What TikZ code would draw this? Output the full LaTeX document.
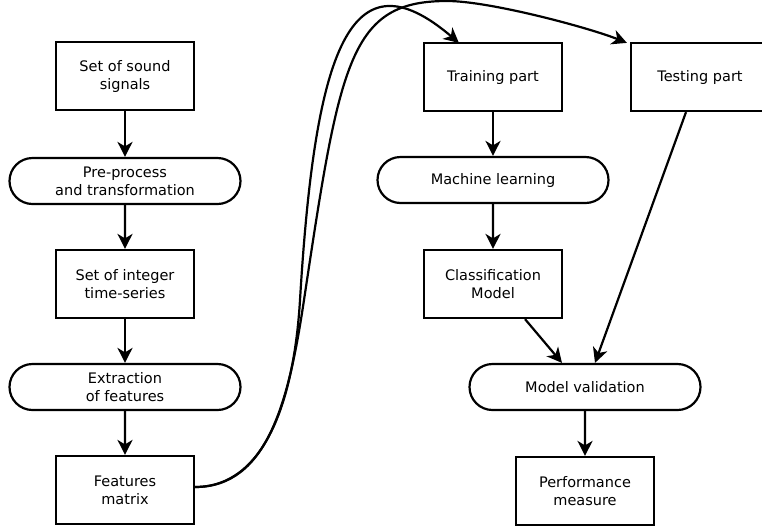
\documentclass[tikz,border=0pt]{standalone}
\usepackage{fontspec}
\setmainfont{DejaVu Sans}
\usetikzlibrary{shapes.misc,arrows.meta,calc}
\begin{document}
\begin{tikzpicture}[x=1pt,y=-1pt,
  box/.style={draw,line width=2.2pt,minimum width=138pt,minimum height=68pt,inner sep=0pt,align=center,font=\fontsize{14.5}{18}\selectfont},
  pill/.style={draw,line width=2.2pt,rounded rectangle,minimum width=231pt,minimum height=46pt,inner sep=0pt,align=center,font=\fontsize{14.5}{18}\selectfont},
  arr/.style={line width=2.2pt,-{Stealth[length=15pt,width=15pt,inset=4.5pt]}}]
\useasboundingbox (0,0) rectangle (762,531);
\clip (0,0) rectangle (762,531);
\node[box]  (sos) at (125,76)  {Set of sound\\signals};
\node[pill] (pp)  at (125,181) {Pre-process\\and transformation};
\node[box]  (sit) at (125,284) {Set of integer\\time-series};
\node[pill] (ef)  at (125,387) {Extraction\\of features};
\node[box]  (fm)  at (125,490) {Features\\matrix};
\node[box]  (tr)  at (493,77)  {Training part};
\node[pill] (ml)  at (493,180) {Machine learning};
\node[box]  (cm)  at (493,284) {Classification\\Model};
\node[box]  (te)  at (700,77)  {Testing part};
\node[pill] (mv)  at (585,387) {Model validation};
\node[box]  (pm)  at (585,491) {Performance\\measure};
\draw[arr] (sos) -- (pp);
\draw[arr] (pp) -- (sit);
\draw[arr] (sit) -- (ef);
\draw[arr] (ef) -- (fm);
\draw[arr] (tr) -- (ml);
\draw[arr] (ml) -- (cm);
\draw[arr] (mv) -- (pm);
\draw[arr] ($(cm.south)+(32,0)$) -- ($(mv.north)+(-23,0)$);
\draw[arr] ($(te.south)+(-14,0)$) -- ($(mv.north)+(10,0)$);
\draw[arr] ($(fm.east)+(0,-3)$) .. controls (265,487) and (294,400) .. (300,300)
  .. controls (315,50) and (350,-50) .. ($(tr.north west)+(36,1)$);
\draw[arr] ($(fm.east)+(0,-3)$) .. controls (268,487) and (289,400) .. (304,300)
  .. controls (340,60) and (350,1) .. (447,1)
  .. controls (490,1) and (590,28) .. ($(te.north west)+(-3,1)$);
\end{tikzpicture}
\end{document}
